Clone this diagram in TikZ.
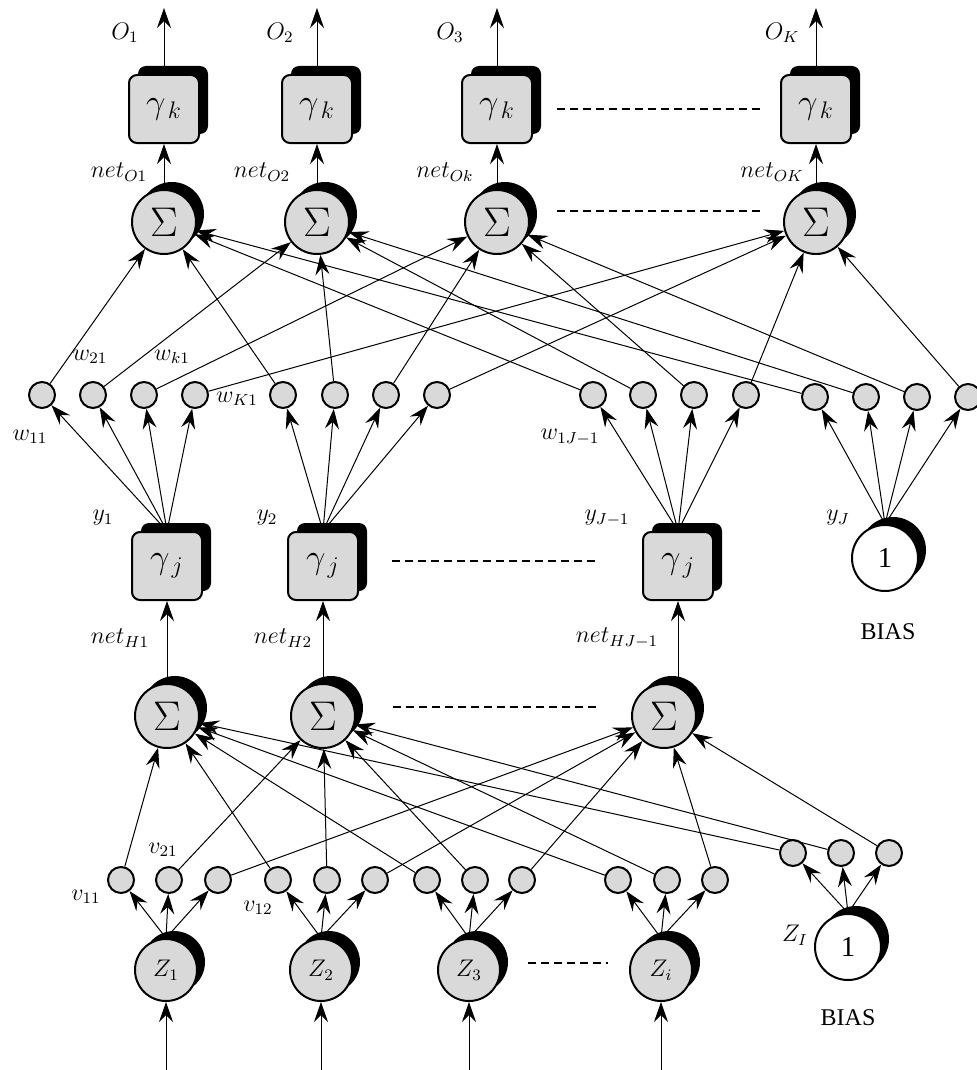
\documentclass[tikz,border=0pt]{standalone}
\usepackage{amsmath}
\usepackage{fontspec}
\setmainfont{Liberation Serif}
\usetikzlibrary{arrows.meta,shadows}

\begin{document}
\begin{tikzpicture}[->,>={Stealth[length=10pt,width=7pt,inset=3.5pt]},x=0.5pt,y=-0.5pt,line width=0.5pt,
    blackshadow/.style={drop shadow={shadow xshift=4pt,shadow yshift=4pt,fill=black,opacity=1}},
    unit/.style={circle, draw, line width=1pt, fill=black!15, inner sep=0pt, minimum size=31pt, blackshadow, font=\large},
    sumnode/.style={unit, minimum size=32pt, font=\huge},
    gbox/.style={rectangle, rounded corners=4pt, draw, line width=1pt, fill=black!15, inner sep=0pt, minimum width=35pt, minimum height=34pt,
        drop shadow={shadow xshift=4.5pt,shadow yshift=4.5pt,fill=black,opacity=1}, font=\LARGE},
    wt/.style={circle, draw, line width=1pt, fill=black!15, inner sep=0pt, minimum size=13pt},
    bias/.style={circle, draw, line width=1pt, fill=white, inner sep=0pt, minimum size=33pt, blackshadow, font=\Large},
    lab/.style={inner sep=1pt, font=\large},
    skipline/.style={-, dash pattern=on 4pt off 2.5pt, line width=0.6pt}]
    \useasboundingbox (0,0) rectangle (976,1070);

    % output layer
    \node [gbox](1) at (164,109) {$\gamma_{\,k}$};
    \node [gbox](2) at (317,109) {$\gamma_{\,k}$};
    \node [gbox](3) at (497,109) {$\gamma_{\,k}$};
    \node [gbox](4) at (816,109) {$\gamma_{\,k}$};
    \node [sumnode](5) at (164,222) {$\Sigma$};
    \node [sumnode](6) at (317,222) {$\Sigma$};
    \node [sumnode](7) at (497,222) {$\Sigma$};
    \node [sumnode](8) at (816,222) {$\Sigma$};

    % output weights
    \node [wt](9) at (42,395) {};
    \node [wt](10) at (93,395) {};
    \node [wt](11) at (144,395) {};
    \node [wt](12) at (195,395) {};
    \node [wt](13) at (283,395) {};
    \node [wt](14) at (335,395) {};
    \node [wt](15) at (386,395) {};
    \node [wt](16) at (437,395) {};
    \node [wt](17) at (593,395) {};
    \node [wt](18) at (643,395) {};
    \node [wt](19) at (694,395) {};
    \node [wt](20) at (746,395) {};
    \node [wt](21) at (815,397) {};
    \node [wt](22) at (866,397) {};
    \node [wt](23) at (917,397) {};
    \node [wt](24) at (968,397) {};

    % hidden layer
    \node [gbox](25) at (167,566) {$\gamma_{\,j}$};
    \node [gbox](26) at (323,566) {$\gamma_{\,j}$};
    \node [gbox](27) at (678,566) {$\gamma_{\,j}$};
    \node [bias](28) at (885,558) {1};
    \node [sumnode](29) at (167,716) {$\Sigma$};
    \node [sumnode](30) at (323,716) {$\Sigma$};
    \node [sumnode](31) at (664,716) {$\Sigma$};

    % hidden weights
    \node [wt](32) at (121,880) {};
    \node [wt](33) at (169,880) {};
    \node [wt](34) at (218,880) {};
    \node [wt](35) at (278,880) {};
    \node [wt](36) at (327,880) {};
    \node [wt](37) at (375,880) {};
    \node [wt](38) at (427,880) {};
    \node [wt](39) at (475,880) {};
    \node [wt](40) at (522,880) {};
    \node [wt](41) at (618,880) {};
    \node [wt](42) at (667,880) {};
    \node [wt](43) at (715,880) {};
    \node [wt](44) at (793,853) {};
    \node [wt](45) at (841,853) {};
    \node [wt](46) at (889,853) {};

    % input layer
    \node [unit](47) at (166,970) {$Z_1$};
    \node [unit](48) at (321,970) {$Z_2$};
    \node [unit](49) at (469,970) {$Z_3$};
    \node [unit](50) at (661,970) {$Z_i$};
    \node [bias](51) at (848,947) {1};

    \coordinate (52) at (164,8);
    \coordinate (53) at (317,8);
    \coordinate (54) at (497,8);
    \coordinate (55) at (816,8);
    \coordinate (56) at (166,1070);
    \coordinate (57) at (321,1070);
    \coordinate (58) at (469,1070);
    \coordinate (59) at (661,1070);

    \coordinate (60) at (557,109);
    \coordinate (61) at (762,109);
    \coordinate (62) at (557,211);
    \coordinate (63) at (762,211);
    \coordinate (64) at (392,561);
    \coordinate (65) at (598,561);
    \coordinate (66) at (393,707);
    \coordinate (67) at (598,707);
    \coordinate (68) at (528,963);
    \coordinate (69) at (608,963);

    % labels
    \node [lab](70) at (125,33) {$O_1$};
    \node [lab](71) at (280,33) {$O_2$};
    \node [lab](72) at (450,33) {$O_3$};
    \node [lab](73) at (782,33) {$O_K$};
    \node [lab](74) at (119,172) {$net_{O1}$};
    \node [lab](75) at (262,172) {$net_{O2}$};
    \node [lab](76) at (445,172) {$net_{Ok}$};
    \node [lab](77) at (772,172) {$net_{OK}$};
    \node [lab](78) at (90,357) {$w_{21}$};
    \node [lab](79) at (172,357) {$w_{k1}$};
    \node [lab](80) at (237,399) {$w_{K1}$};
    \node [lab](81) at (30,437) {$w_{11}$};
    \node [lab](82) at (570,437) {$w_{1J-1}$};
    \node [lab](83) at (103,518) {$y_1$};
    \node [lab](84) at (267,518) {$y_2$};
    \node [lab](85) at (607,518) {$y_{J-1}$};
    \node [lab](86) at (838,518) {$y_J$};
    \node [lab](87) at (888,632) {BIAS};
    \node [lab](88) at (120,638) {$net_{H1}$};
    \node [lab](89) at (283,638) {$net_{H2}$};
    \node [lab](90) at (617,638) {$net_{HJ-1}$};
    \node [lab](91) at (163,850) {$v_{21}$};
    \node [lab](92) at (86,897) {$v_{11}$};
    \node [lab](93) at (258,908) {$v_{12}$};
    \node [lab](94) at (795,935) {$Z_I$};
    \node [lab](95) at (848,1018) {BIAS};

    \path
        (1) edge (52)
        (2) edge (53)
        (3) edge (54)
        (4) edge (55)
        (5) edge (1)
        (6) edge (2)
        (7) edge (3)
        (8) edge (4)

        (9) edge (5)
        (10) edge (6)
        (11) edge (7)
        (12) edge (8)
        (13) edge (5)
        (14) edge (6)
        (15) edge (7)
        (16) edge (8)
        (17) edge (5)
        (18) edge (6)
        (19) edge (7)
        (20) edge (8)
        (21) edge (5)
        (22) edge (6)
        (23) edge (7)
        (24) edge (8)

        (25.north) edge (9)
        (25.north) edge (10)
        (25.north) edge (11)
        (25.north) edge (12)
        (26.north) edge (13)
        (26.north) edge (14)
        (26.north) edge (15)
        (26.north) edge (16)
        (27.north) edge (17)
        (27.north) edge (18)
        (27.north) edge (19)
        (27.north) edge (20)
        (28.north) edge (21)
        (28.north) edge (22)
        (28.north) edge (23)
        (28.north) edge (24)

        (29) edge (25)
        (30) edge (26)
        (31.north -| 27) edge (27)

        (32) edge (29)
        (33) edge (30)
        (34) edge (31)
        (35) edge (29)
        (36) edge (30)
        (37) edge (31)
        (38) edge (29)
        (39) edge (30)
        (40) edge (31)
        (41) edge (29)
        (42) edge (30)
        (43) edge (31)
        (44) edge (29)
        (45) edge (30)
        (46) edge (31)

        (47.north) edge (32)
        (47.north) edge (33)
        (47.north) edge (34)
        (48.north) edge (35)
        (48.north) edge (36)
        (48.north) edge (37)
        (49.north) edge (38)
        (49.north) edge (39)
        (49.north) edge (40)
        (50.north) edge (41)
        (50.north) edge (42)
        (50.north) edge (43)
        (51.north) edge (44)
        (51.north) edge (45)
        (51.north) edge (46)

        (56) edge (47)
        (57) edge (48)
        (58) edge (49)
        (59) edge (50)
    ;

    \draw [skipline] (60) -- (61);
    \draw [skipline] (62) -- (63);
    \draw [skipline] (64) -- (65);
    \draw [skipline] (66) -- (67);
    \draw [skipline] (68) -- (69);
\end{tikzpicture}
\end{document}
